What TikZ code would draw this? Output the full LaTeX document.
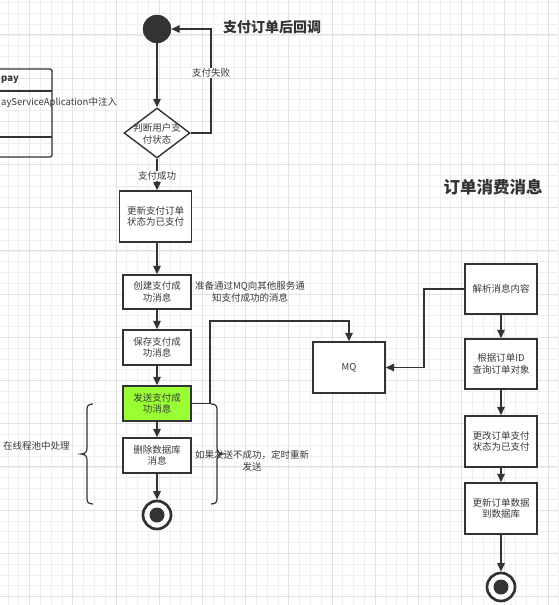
\documentclass[tikz,border=0pt]{standalone}
\usepackage{fontspec}
\setmainfont{Noto Sans CJK SC}
\usetikzlibrary{arrows.meta,shapes.geometric}
\definecolor{ink}{HTML}{333333}
\definecolor{txt}{HTML}{3A3A3A}
\definecolor{gminor}{HTML}{EFEFEF}
\definecolor{gmajor}{HTML}{E2E2E2}
\definecolor{lime}{HTML}{99FF33}
\tikzset{
  x=1pt,y=-1pt,
  gridminor/.style={draw=gminor,line width=0.8pt},
  gridmajor/.style={draw=gmajor,line width=1pt},
  boxnode/.style={draw=ink,line width=1.4pt,fill=white,align=center,inner sep=1pt,
    text=txt,font=\fontsize{9.5}{11.5}\selectfont},
  flow/.style={draw=ink,line width=1.4pt,-{Triangle[length=8.5pt,width=7.5pt]}},
  plain/.style={draw=ink,line width=1.4pt},
  lbl/.style={text=txt,font=\fontsize{9.5}{11.5}\selectfont,align=center,inner sep=1pt},
  startdot/.style={circle,fill=ink,draw=ink,minimum size=28pt,inner sep=0pt},
  enddot/.style={circle,draw=ink,line width=2.7pt,fill=white,minimum size=28pt,inner sep=0pt},
}
\begin{document}
\begin{tikzpicture}
\useasboundingbox (0,0) rectangle (558,605);
\fill[white] (0,0) rectangle (558,605);
% grid
\foreach \i in {0,...,51} {\pgfmathsetmacro\xx{8+\i*10.8}\draw[gridminor] (\xx,0) -- (\xx,605);}
\foreach \i in {0,...,56} {\pgfmathsetmacro\yy{2.5+\i*10.8}\draw[gridminor] (0,\yy) -- (558,\yy);}
\foreach \i in {0,...,12} {\pgfmathsetmacro\xx{29.6+\i*43.2}\draw[gridmajor] (\xx,0) -- (\xx,605);}
\foreach \i in {0,...,13} {\pgfmathsetmacro\yy{34.9+\i*43.2}\draw[gridmajor] (0,\yy) -- (558,\yy);}

% partial class box on the left
\draw[ink,line width=1.3pt,rounded corners=2pt] (-10,69) -- (52,69) -- (52,157) -- (-10,157);
\draw[ink,line width=1.3pt] (-10,91) -- (52,91);
\draw[ink,line width=1.3pt] (-10,137) -- (52,137);
\node[lbl,anchor=west,font=\fontsize{9.5}{11.5}\selectfont\bfseries] (clsname) at (0,80) {pay};
\node[lbl,anchor=west] (clsattr) at (0,103) {ayServiceAplication中注入};

% titles
\node[text=ink,anchor=west,font=\fontsize{14}{16}\selectfont\bfseries,inner sep=0pt] (t1) at (223,27) {支付订单后回调};
\node[text=ink,font=\fontsize{16.5}{18}\selectfont\bfseries,inner sep=0pt] (t2) at (493,187) {订单消费消息};

% left flow
\node[startdot] (s1) at (157,29) {};
\node[diamond,draw=ink,line width=1.4pt,fill=white,minimum width=66pt,minimum height=50pt,inner sep=0pt] (d) at (157,133) {};
\node[lbl,font=\fontsize{9.5}{12}\selectfont] (dt) at (157,134) {判断用户支\\付状态};
\node[boxnode,minimum width=72pt,minimum height=51pt] (b1) at (155.5,216.5) {更新支付订单\\状态为已支付};
\node[boxnode,minimum width=68pt,minimum height=34pt] (b2) at (157,292) {创建支付成\\功消息};
\node[boxnode,minimum width=68pt,minimum height=35pt] (b3) at (157,347.5) {保存支付成\\功消息};
\node[boxnode,minimum width=68pt,minimum height=35pt,fill=lime] (b4) at (157,403.5) {发送支付成\\功消息};
\node[boxnode,minimum width=68pt,minimum height=35pt] (b5) at (157,455.5) {删除数据库\\消息};
\node[enddot] (e1) at (157,515) {};
\fill[ink] (e1.center) circle (7.5);

\draw[flow] (s1) -- (d.north);
\draw[flow] (d.east) -- (211,133) -- (211,29) -- (s1.east);
\node[lbl,fill=white] (fail) at (211,73) {支付失败};
\draw[flow] (d.south) -- (d.south |- b1.north);
\node[lbl,fill=white] (ok) at (157,176) {支付成功};
\draw[flow] (b1.south -| b2.north) -- (b2.north);
\draw[flow] (b2) -- (b3);
\draw[flow] (b3) -- (b4);
\draw[flow] (b4) -- (b5);
\draw[flow] (b5) -- (e1);

\node[lbl] (note1) at (250,292) {准备通过MQ向其他服务通\\知支付成功的消息};

% MQ
\node[boxnode,minimum width=72pt,minimum height=51pt] (mq) at (349,367.5) {MQ};
\draw[flow] (b4.east) -- (210,403.5) -- (210,321) -- (349,321) -- (mq.north);

% braces
\draw[plain,line width=1.2pt] (93,404) .. controls (88,404) and (87,406) .. (87,410) -- (87,448)
  .. controls (87,452) and (85,454) .. (81,454) .. controls (85,454) and (87,456) .. (87,460)
  -- (87,498) .. controls (87,502) and (88,504) .. (93,504);
\draw[plain,line width=1.2pt] (211,404) .. controls (216,404) and (217,406) .. (217,410) -- (217,448)
  .. controls (217,452) and (219,454) .. (223,454) .. controls (219,454) and (217,456) .. (217,460)
  -- (217,498) .. controls (217,502) and (216,504) .. (211,504);
\node[lbl,anchor=west] (pool) at (2,446) {在线程池中处理};
\node[lbl] (retry) at (252,461) {如果发送不成功，定时重新\\发送};

% right flow
\node[boxnode,minimum width=72pt,minimum height=50pt] (r1) at (501,289) {解析消息内容};
\node[boxnode,minimum width=72pt,minimum height=50pt] (r2) at (501,364) {根据订单ID\\查询订单对象};
\node[boxnode,minimum width=72pt,minimum height=51pt] (r3) at (501,441.5) {更改订单支付\\状态为已支付};
\node[boxnode,minimum width=72pt,minimum height=51pt] (r4) at (501,508.5) {更新订单数据\\到数据库};
\node[enddot] (e2) at (501,587) {};
\fill[ink] (e2.center) circle (7.5);

\draw[flow] (r1.west) -- (424,289) -- (424,367.5) -- (mq.east);
\draw[flow] (r1) -- (r2);
\draw[flow] (r2) -- (r3);
\draw[flow] (r3) -- (r4);
\draw[flow] (r4) -- (e2);
\end{tikzpicture}
\end{document}
